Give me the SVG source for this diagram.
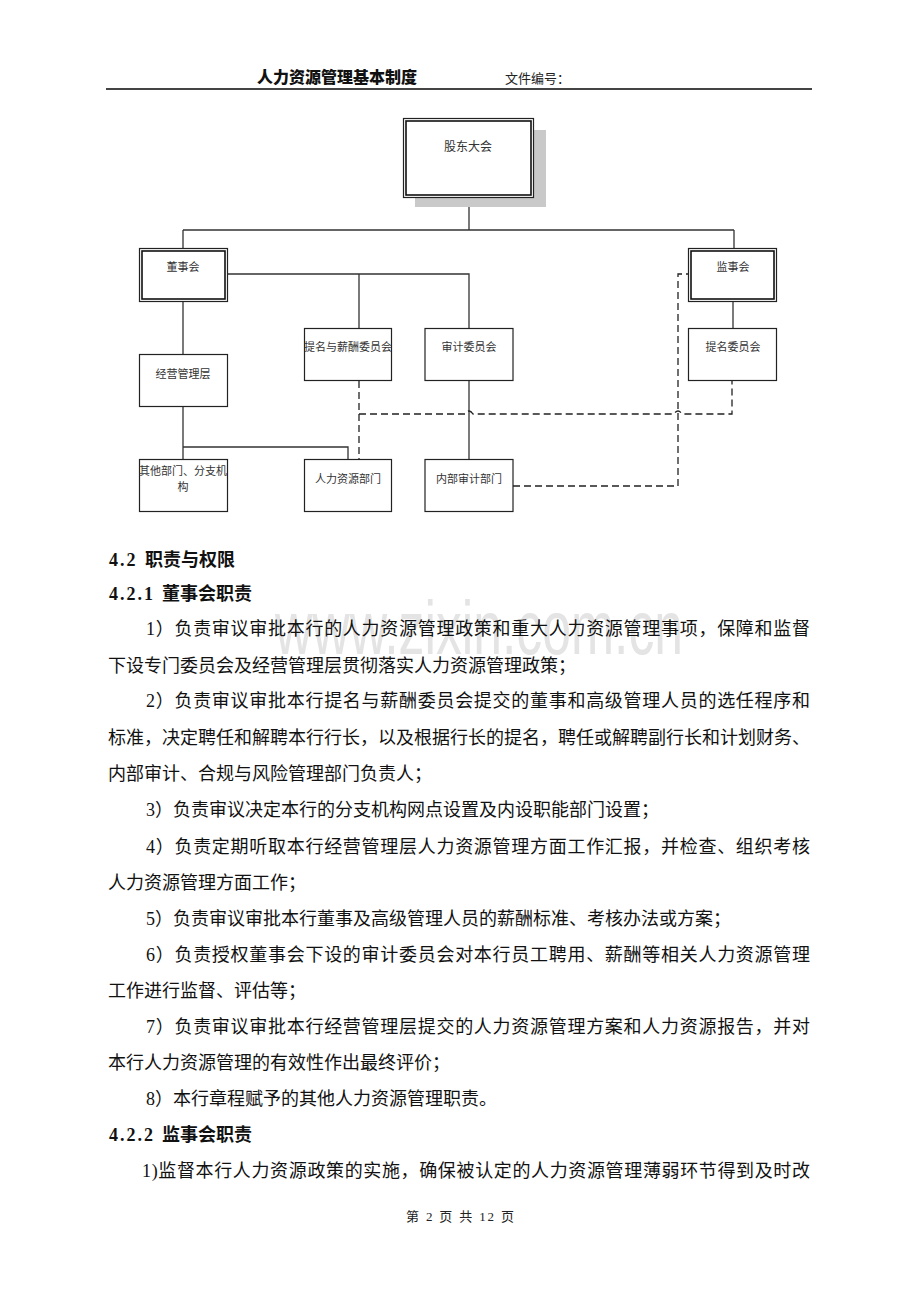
<svg xmlns="http://www.w3.org/2000/svg" width="920" height="1302" viewBox="0 0 920 1302">
<style>
.lbl{font-family:"Liberation Sans","Noto Sans CJK SC",sans-serif;font-size:11px;fill:#333;text-anchor:middle}
.box{fill:#fff;stroke:#222;stroke-width:1.2}
.inner{fill:none;stroke:#111;stroke-width:1.6}
.con{fill:none;stroke:#333;stroke-width:1.3}
.dash{fill:none;stroke:#222;stroke-width:1.3;stroke-dasharray:7 4}
.body{font-family:"Liberation Serif","Noto Sans CJK SC",serif;font-size:18px;fill:#111}
.hd{font-family:"Liberation Serif","Noto Sans CJK SC",serif;font-size:18px;font-weight:bold;fill:#111}
</style>
<rect width="920" height="1302" fill="#fff"/>
<!-- watermark -->
<text x="275" y="654" font-family="Liberation Sans,sans-serif" font-size="76" fill="#e4e4e4" textLength="408" lengthAdjust="spacingAndGlyphs">www.zixin.com.cn</text>
<!-- header -->
<text x="337" y="83" text-anchor="middle" font-family="Noto Sans CJK SC,sans-serif" font-size="16" font-weight="900" fill="#111">人力资源管理基本制度</text>
<text x="505" y="83" font-family="Noto Sans CJK SC,sans-serif" font-size="13" fill="#222">文件编号：</text>
<line x1="106" y1="89" x2="812" y2="89" stroke="#444" stroke-width="1.8"/>
<!-- connectors -->
<g id="connectors">
<path class="con" d="M469 197V230M183 230H734M183 230V248M734 230V248"/>
<path class="con" d="M228 274H469V328M359 274V328"/>
<path class="con" d="M183 302V354M183 407V459M183 447H348V459"/>
<path class="con" d="M469 381V459"/>
<path class="con" d="M733 302V328"/>
<path class="dash" d="M359 381V459"/>
<path class="dash" d="M359 414H465Q469 408 473 414H674Q678 408 682 414H732V381"/>
<path class="dash" d="M513 486H678V274H689"/>
</g>
<!-- nodes -->
<g id="n-gudong">
<rect x="415" y="130" width="131" height="77" fill="#c9c9c9"/>
<rect class="box" x="403.5" y="118.5" width="130" height="79"/>
<rect class="inner" x="406" y="121" width="125" height="74"/>
<text class="lbl" x="468" y="151" style="font-size:12px">股东大会</text>
</g>
<g id="n-dongshi">
<rect class="box" x="139.5" y="248.5" width="88" height="53"/>
<rect class="inner" x="142" y="251" width="83" height="48"/>
<text class="lbl" x="183" y="271">董事会</text>
</g>
<g id="n-jianshi">
<rect class="box" x="688.5" y="248.5" width="88" height="53"/>
<rect class="inner" x="691" y="251" width="83" height="48"/>
<text class="lbl" x="733" y="271">监事会</text>
</g>
<g id="n-tixinchou">
<rect class="box" x="304.5" y="328.5" width="87" height="52"/>
<text class="lbl" x="348" y="351">提名与薪酬委员会</text>
</g>
<g id="n-shenji">
<rect class="box" x="425" y="328.5" width="88" height="52"/>
<text class="lbl" x="469" y="351">审计委员会</text>
</g>
<g id="n-timing">
<rect class="box" x="688.5" y="328.5" width="88" height="52"/>
<text class="lbl" x="733" y="351">提名委员会</text>
</g>
<g id="n-jingying">
<rect class="box" x="139.5" y="354.5" width="88" height="52"/>
<text class="lbl" x="183" y="378">经营管理层</text>
</g>
<g id="n-qita">
<rect class="box" x="139.5" y="459.5" width="88" height="52"/>
<text class="lbl" x="183" y="475">其他部门、分支机</text>
<text class="lbl" x="183" y="491">构</text>
</g>
<g id="n-renli">
<rect class="box" x="304.5" y="459.5" width="87" height="52"/>
<text class="lbl" x="348" y="483">人力资源部门</text>
</g>
<g id="n-neibu">
<rect class="box" x="425" y="459.5" width="88" height="52"/>
<text class="lbl" x="469" y="483">内部审计部门</text>
</g>
<!-- body text -->
<text class="hd" y="566"><tspan x="109" letter-spacing="2">4.2</tspan><tspan x="145">职责与权限</tspan></text>
<text class="hd" y="600"><tspan x="109" letter-spacing="2">4.2.1</tspan><tspan x="162">董事会职责</tspan></text>
<text class="body" x="146" y="635" textLength="664" lengthAdjust="spacing">1）负责审议审批本行的人力资源管理政策和重大人力资源管理事项，保障和监督</text>
<text class="body" x="108" y="672">下设专门委员会及经营管理层贯彻落实人力资源管理政策；</text>
<text class="body" x="146" y="707" textLength="664" lengthAdjust="spacing">2）负责审议审批本行提名与薪酬委员会提交的董事和高级管理人员的选任程序和</text>
<text class="body" x="108" y="744" textLength="702" lengthAdjust="spacing">标准，决定聘任和解聘本行行长，以及根据行长的提名，聘任或解聘副行长和计划财务、</text>
<text class="body" x="108" y="780">内部审计、合规与风险管理部门负责人；</text>
<text class="body" x="146" y="816">3）负责审议决定本行的分支机构网点设置及内设职能部门设置；</text>
<text class="body" x="146" y="853" textLength="664" lengthAdjust="spacing">4）负责定期听取本行经营管理层人力资源管理方面工作汇报，并检查、组织考核</text>
<text class="body" x="108" y="889">人力资源管理方面工作；</text>
<text class="body" x="146" y="925">5）负责审议审批本行董事及高级管理人员的薪酬标准、考核办法或方案；</text>
<text class="body" x="146" y="961" textLength="664" lengthAdjust="spacing">6）负责授权董事会下设的审计委员会对本行员工聘用、薪酬等相关人力资源管理</text>
<text class="body" x="108" y="997">工作进行监督、评估等；</text>
<text class="body" x="146" y="1033" textLength="664" lengthAdjust="spacing">7）负责审议审批本行经营管理层提交的人力资源管理方案和人力资源报告，并对</text>
<text class="body" x="108" y="1069">本行人力资源管理的有效性作出最终评价；</text>
<text class="body" x="146" y="1105">8）本行章程赋予的其他人力资源管理职责。</text>
<text class="hd" y="1141"><tspan x="109" letter-spacing="2">4.2.2</tspan><tspan x="162">监事会职责</tspan></text>
<text class="body" x="142" y="1177" textLength="668" lengthAdjust="spacing">1)监督本行人力资源政策的实施，确保被认定的人力资源管理薄弱环节得到及时改</text>
<!-- footer -->
<text x="460" y="1221" text-anchor="middle" font-family="Liberation Serif,Noto Sans CJK SC,serif" font-size="13" fill="#222" textLength="108" lengthAdjust="spacing">第 2 页 共 12 页</text>
</svg>
